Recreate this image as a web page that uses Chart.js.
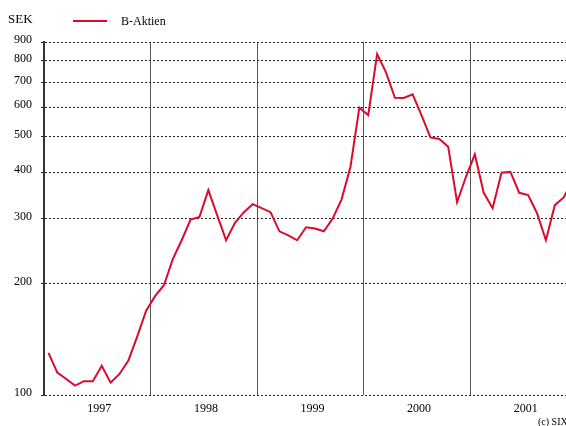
<!DOCTYPE html>
<html>
<head>
<meta charset="utf-8">
<script src="https://cdn.jsdelivr.net/npm/chart.js@4/dist/chart.umd.min.js"></script>
<style>
  html, body { margin: 0; padding: 0; background: #fff; overflow: hidden; width: 566px; height: 426px; }
  #wrap { position: relative; width: 584px; height: 426px; }
  #chart { position: absolute; left: 0; top: 0; }
  .lbl { position: absolute; font-family: "Liberation Serif", "Times New Roman", serif; color: #000; white-space: nowrap; line-height: 1; }
  .swatch { position: absolute; left: 73px; top: 20px; width: 34px; height: 2px; background: #dc0a2d; }
</style>
</head>
<body>
<div id="wrap">
  <canvas id="chart" width="584" height="426"></canvas>
  <div class="lbl" style="left:8px;top:12px;font-size:13px">SEK</div>
  <div class="swatch"></div>
  <div class="lbl" style="left:121px;top:15px;font-size:12px">B-Aktien</div>
  <div class="lbl" style="left:538px;top:417px;font-size:10px">(c) SIX</div>
</div>
<script>
// ===== DATA =====
const years = ['1997', '1998', '1999', '2000', '2001'];
const seriesName = 'B-Aktien';

// monthly closing price, SEK (Jan 1997 - Dec 2001)
const values1997 = [130, 115, 110.5, 106, 109, 109, 120, 108, 114, 124, 144, 169];
const values1998 = [185, 198, 233, 262, 298, 303, 358, 306, 262, 292, 312, 328];
const values1999 = [320, 312, 277, 270, 262, 284, 282, 277, 300, 338, 414, 598];
const values2000 = [571, 835, 745, 636, 635, 650, 570, 497, 492, 469, 332, 389];
const values2001 = [447, 352, 320, 399, 401, 352, 347, 310, 262, 326, 342, 380];

const yTicks = [100, 200, 300, 400, 500, 600, 700, 800, 900];

// ===== CHART =====
const values = [].concat(values1997, values1998, values1999, values2000, values2001);
const points = values.map((v, i) => ({ x: i + 0.5, y: v }));
const FONT = { family: '"Liberation Serif", "Times New Roman", serif', size: 12 };

new Chart(document.getElementById('chart'), {
  type: 'line',
  data: {
    datasets: [{
      label: seriesName,
      data: points,
      borderColor: '#dc0a2d',
      borderWidth: 2,
      pointRadius: 0,
      tension: 0,
      fill: false
    }]
  },
  options: {
    responsive: false,
    animation: false,
    devicePixelRatio: 1,
    layout: { padding: { top: 42, right: 3, left: 0, bottom: 0 } },
    plugins: {
      legend: { display: false },
      tooltip: { enabled: false }
    },
    scales: {
      x: {
        type: 'linear',
        min: 0,
        max: years.length * 12,
        afterBuildTicks: scale => {
          const t = [];
          for (let v = 0; v <= years.length * 12; v += 6) t.push({ value: v });
          scale.ticks = t;
        },
        afterFit: scale => { scale.height = 31; },
        grid: {
          drawTicks: false,
          lineWidth: 1,
          color: ctx => (ctx.tick && ctx.tick.value % 12 === 0 && ctx.tick.value > 0) ? '#555' : 'rgba(0,0,0,0)'
        },
        border: { display: false },
        ticks: {
          autoSkip: false,
          maxRotation: 0,
          padding: 7,
          labelOffset: 2,
          color: '#000',
          font: FONT,
          callback: v => (v % 12 === 6 ? years[(v - 6) / 12] : '')
        }
      },
      y: {
        type: 'logarithmic',
        min: 100,
        max: 900,
        afterBuildTicks: scale => { scale.ticks = yTicks.map(v => ({ value: v })); },
        afterFit: scale => { scale.width = 44; },
        grid: {
          color: '#222',
          lineWidth: 1,
          drawTicks: true,
          tickLength: 3
        },
        border: { display: true, color: '#333', width: 2, dash: [2, 2] },
        ticks: {
          padding: 9,
          labelOffset: -2,
          color: '#000',
          font: FONT,
          callback: v => String(v)
        }
      }
    }
  }
});
</script>
</body>
</html>
